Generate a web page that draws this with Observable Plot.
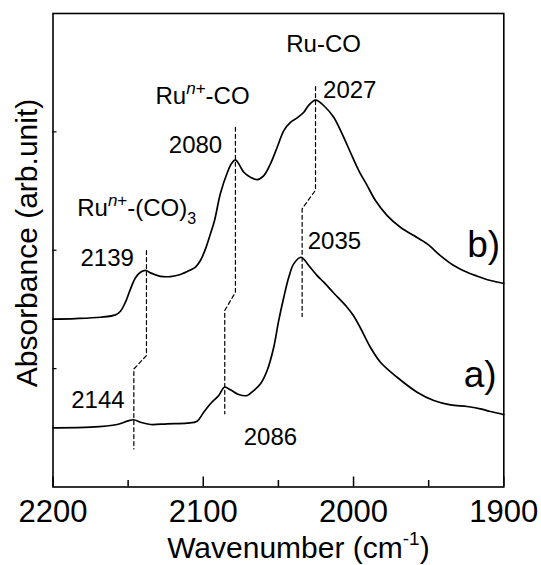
<!DOCTYPE html>
<html><head><meta charset="utf-8">
<script src="https://cdn.jsdelivr.net/npm/d3@7"></script>
<script src="https://cdn.jsdelivr.net/npm/@observablehq/plot@0.6"></script>
<style>
body{margin:0;background:#fff}
#chart svg{font-family:"Liberation Sans",Arial,sans-serif;color:#000;background:#fff;overflow:visible}
</style>
</head><body><div id="chart"></div>
<script>
// Spectrum b) (upper)
const wavenumberB = [2200,2185.0,2168.4,2158.4,2155.1,2151.8,2148.4,2145.1,2141.8,2138.1,2135.1,2128.5,2121.8,2115.2,2108.5,2105.2,2101.9,2098.5,2095.2,2092.5,2088.6,2083.9,2081.2,2078.6,2073.0,2068.6,2064.1,2059.7,2055.3,2050.8,2046.4,2042.0,2037.5,2033.1,2030.0,2025.3,2018.7,2013.2,2007.6,2002.1,1996.5,1990.9,1985.4,1977.6,1968.8,1959.9,1951.0,1942.2,1933.3,1924.4,1915.6,1908.9,1900];
const absorbanceB = [1.419,1.423,1.434,1.454,1.485,1.561,1.674,1.767,1.814,1.829,1.809,1.780,1.778,1.795,1.834,1.858,1.913,2.012,2.139,2.251,2.479,2.659,2.732,2.764,2.659,2.617,2.597,2.631,2.730,2.870,3.011,3.081,3.118,3.166,3.222,3.269,3.208,3.123,2.983,2.828,2.673,2.546,2.420,2.293,2.194,2.124,2.054,1.955,1.871,1.814,1.772,1.744,1.719];
// Spectrum a) (lower)
const wavenumberA = [2200,2175.1,2157.3,2150.6,2146.4,2141.8,2135.1,2124.0,2110.7,2104.1,2099.7,2095.2,2089.7,2085.9,2081.9,2076.4,2070.8,2066.4,2061.9,2057.5,2053.1,2049.8,2046.4,2043.1,2039.8,2034.9,2029.8,2024.2,2019.8,2013.2,2004.3,2000.1,1995.4,1988.8,1982.1,1971.0,1957.7,1946.6,1935.5,1924.4,1915.6,1908.9,1900];
const absorbanceA = [0.500,0.505,0.528,0.556,0.568,0.547,0.528,0.534,0.539,0.556,0.632,0.703,0.773,0.843,0.821,0.781,0.773,0.815,0.872,0.984,1.181,1.406,1.603,1.772,1.885,1.941,1.871,1.786,1.730,1.639,1.519,1.449,1.343,1.181,1.054,0.927,0.801,0.731,0.694,0.680,0.660,0.638,0.612];
// Dashed peak guides
const guideId = [1,1,1,1, 2,2,2,2, 3,3,3,3];
const guideW  = [2137.8,2137.8,2146.2,2146.2, 2078.6,2078.6,2085.7,2085.7, 2025.3,2025.3,2034.2,2034.2];
const guideA  = [1.997,1.111,0.997,0.321, 3.039,1.645,1.491,0.618, 3.383,2.508,2.350,1.440];
// Annotation labels
const labelText = ["Ru-CO","Ru^n+-CO","2027","2139","2144","2086","2035","Ru^n+-(CO)3"];
const labelW    = [2044.8,2131.8,2020.3,2181.7,2187.9,2073.1,2030.5,2183.9];
const labelA    = [3.671,3.235,3.290,1.871,0.666,0.355,2.012,2.293];
const endLabelText = ["2080"];
const endLabelW = [2087.4];
const endLabelA = [2.819];
const seriesText = ["b)","a)"];
const seriesW = [1924.4,1926.7];
const seriesA = [1.941,0.843];
// Axes
const xMajorTicks = [2200,2100,2000,1900];
const xMinorTicks = [2150,2050,1950];
const yTicks = [1,2,3];
const xTitle = "Wavenumber (cm-1)";
const yTitle = "Absorbance (arb.unit)";

const W = 541, H = 565;
const mL = 52.5, mR = 37.7, mT = 13, mB = 78.5;
const fw = W - mL - mR, fh = H - mT - mB;

const lineA = wavenumberA.map((w,i)=>({w, a: absorbanceA[i]}));
const lineB = wavenumberB.map((w,i)=>({w, a: absorbanceB[i]}));
const guides = guideW.map((w,i)=>({id: guideId[i], w, a: guideA[i]}));
const labels = labelText.map((t,i)=>({t, w: labelW[i], a: labelA[i]}));
const endLabels = endLabelText.map((t,i)=>({t, w: endLabelW[i], a: endLabelA[i]}));
const seriesLabels = seriesText.map((t,i)=>({t, w: seriesW[i], a: seriesA[i]}));

const chart = Plot.plot({
  width: W, height: H,
  marginLeft: mL, marginRight: mR, marginTop: mT, marginBottom: mB,
  x: {domain: [2200, 1900], axis: null},
  y: {domain: [0, 4], axis: null},
  marks: [
    Plot.line(guides, {x: "w", y: "a", z: "id", stroke: "#000", strokeWidth: 1.2, strokeDasharray: "4,3"}),
    Plot.line(lineB, {x: "w", y: "a", stroke: "#000", strokeWidth: 1.7, curve: "catmull-rom"}),
    Plot.line(lineA, {x: "w", y: "a", stroke: "#000", strokeWidth: 1.7, curve: "catmull-rom"}),
    Plot.tickX(xMajorTicks, {x: d=>d, stroke: "#000", strokeWidth: 1.5, insetTop: fh - 10}),
    Plot.tickX(xMinorTicks, {x: d=>d, stroke: "#000", strokeWidth: 1.5, insetTop: fh - 6.5}),
    Plot.tickY(yTicks, {y: d=>d, stroke: "#000", strokeWidth: 1.2, insetRight: fw - 4}),
    Plot.frame({stroke: "#000", strokeWidth: 1.6}),
    Plot.text(xMajorTicks, {x: d=>d, text: d=>String(d), frameAnchor: "bottom", lineAnchor: "bottom", dy: 35.2, fontSize: 31, fill: "#000"}),
    Plot.text([xTitle], {x: [2036.7], text: d=>d, frameAnchor: "bottom", lineAnchor: "bottom", dy: 71.2, fontSize: 30, fill: "#000"}),
    Plot.text(labels, {x: "w", y: "a", text: "t", textAnchor: "start", lineAnchor: "bottom", fontSize: 24, fill: "#000"}),
    Plot.text(endLabels, {x: "w", y: "a", text: "t", textAnchor: "end", lineAnchor: "bottom", fontSize: 24, fill: "#000"}),
    Plot.text(seriesLabels, {x: "w", y: "a", text: "t", textAnchor: "start", lineAnchor: "bottom", fontSize: 37, fill: "#000"})
  ]
});

// Y axis title (rotated)
const svg = d3.select(chart);
svg.append("text")
  .attr("transform", `translate(37,243) rotate(-90)`)
  .attr("text-anchor", "middle")
  .attr("font-size", 30)
  .attr("fill", "#000")
  .text(yTitle);

// Rich text: superscripts / subscripts
const rich = {
  "Ru^n+-CO": [{t:"Ru"},{t:"n",sup:true,it:true},{t:"+",sup:true},{t:"-CO"}],
  "Ru^n+-(CO)3": [{t:"Ru"},{t:"n",sup:true,it:true},{t:"+",sup:true},{t:"-(CO)"},{t:"3",sub:true}],
  "Wavenumber (cm-1)": [{t:"Wavenumber (cm"},{t:"-1",sup:true,big:true},{t:")"}]
};
svg.selectAll("text").each(function(){
  const txt = this.textContent;
  const parts = rich[txt];
  if (!parts) return;
  const baseSize = this.getAttribute("font-size") || (this.parentNode && this.parentNode.getAttribute("font-size")) || 24;
  const el = d3.select(this);
  el.text(null);
  let shift = 0;
  parts.forEach(p => {
    let target = 0, size = baseSize;
    if (p.sup) { target = p.big ? -13 : -10; size = p.big ? 19 : 17; }
    if (p.sub) { target = 8; size = 16; }
    const ts = el.append("tspan").attr("dy", target - shift).attr("font-size", size).text(p.t);
    if (p.it) ts.attr("font-style", "italic");
    shift = target;
  });
});

document.getElementById("chart").appendChild(chart);
</script>
</body></html>
